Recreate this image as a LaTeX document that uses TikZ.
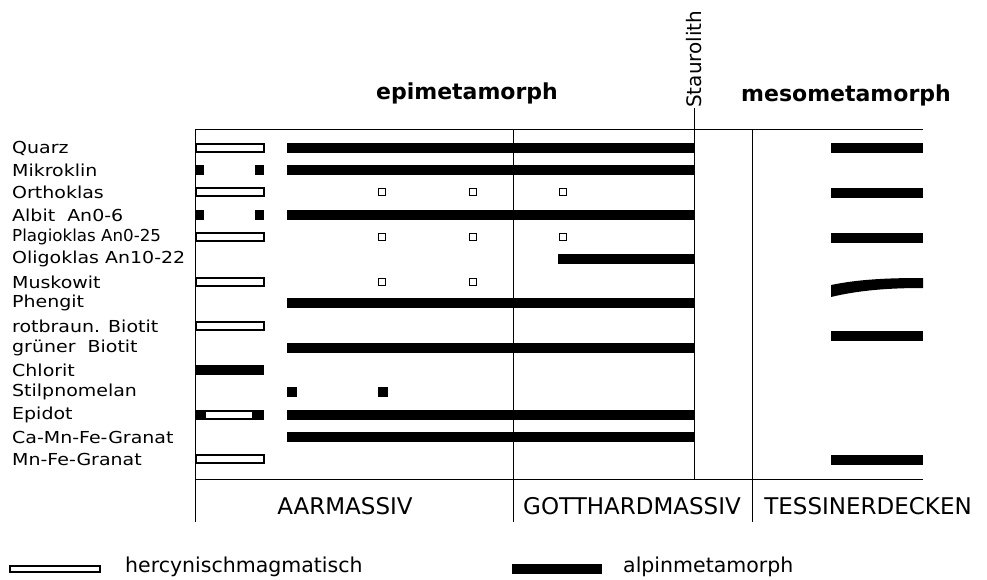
\documentclass[tikz,border=0pt]{standalone}
\usepackage{fontspec}
\usepackage{graphicx}
\setmainfont{DejaVu Sans}
\newfontfamily\lblfont{DejaVu Sans}[FakeStretch=1.15]
\newfontfamily\plainfont{DejaVu Sans}
\newfontfamily\hdrfont{DejaVu Sans}
\newfontfamily\regfont{DejaVu Sans}
\begin{document}
\begin{tikzpicture}[x=1pt,y=-1pt,
  frameline/.style={line width=1pt},
  openbar/.style={draw,line width=1.2pt,fill=white},
  alpbar/.style={fill=black},
  opensq/.style={draw,line width=1.2pt,fill=white},
  lbl/.style={anchor=west,inner sep=0pt,font=\lblfont\fontsize{16.5}{17}\selectfont},
  hdr/.style={inner sep=0pt,font=\hdrfont\bfseries\fontsize{22}{24}\selectfont},
  reg/.style={inner sep=0pt,font=\regfont\fontsize{23}{25}\selectfont},
  leg/.style={anchor=west,inner sep=0pt,font=\plainfont\fontsize{20.5}{22}\selectfont}]
\useasboundingbox (0,0) rectangle (987,580);
% frame
\draw[frameline] (195,130) -- (923,130);
\draw[frameline] (195,479) -- (923,479);
\draw[frameline] (195,130) -- (195,522);
\draw[frameline] (513,130) -- (513,522);
\draw[frameline] (694,108) -- (694,479);
\draw[frameline] (752,130) -- (752,522);
% headers
\node[hdr] (epi) at (467,93) {epimetamorph};
\node[hdr] (meso) at (846,95) {mesometamorph};
\node[inner sep=0pt,rotate=90,anchor=west,font=\plainfont\fontsize{20}{21}\selectfont] (stau) at (694,108) {Staurolith};
% row labels
\node[lbl] (l1) at (12,148) {Quarz};
\node[lbl] (l2) at (12,170) {Mikroklin};
\node[lbl] (l3) at (12,192) {Orthoklas};
\node[lbl] (l4) at (12,215) {Albit\ \ An0-6};
\node[lbl] (l5) at (12,237) {\scalebox{0.88}[1]{Plagioklas An0-25}};
\node[lbl] (l6) at (12,259) {Oligoklas An10-22};
\node[lbl] (l7) at (12,282) {Muskowit};
\node[lbl] (l8) at (12,303) {Phengit};
\node[lbl] (l9) at (12,326) {rotbraun. Biotit};
\node[lbl] (l10) at (12,348) {grüner\ \ Biotit};
\node[lbl] (l11) at (12,370) {Chlorit};
\node[lbl] (l12) at (12,392) {Stilpnomelan};
\node[lbl] (l13) at (12,415) {Epidot};
\node[lbl] (l14) at (12,437) {Ca-Mn-Fe-Granat};
\node[lbl] (l15) at (12,459) {Mn-Fe-Granat};
% hercynian (open) bars
\foreach \y in {148,192,237,282,326,459}
  \draw[openbar] (196,\y-4) rectangle (264,\y+4);
% black end squares
\foreach \y in {170,215}{
  \fill (196,\y-5) rectangle (204,\y+5);
  \fill (255,\y-5) rectangle (264,\y+5);}
% Chlorit
\fill (196,365) rectangle (264,375);
% Epidot
\fill (196,410) rectangle (264,420);
\draw[openbar] (205,411.5) rectangle (253,418.5);
% alpine bars epi
\foreach \y in {148,170,215,303,348,415,437}
  \fill[alpbar] (287,\y-5) rectangle (694,\y+5);
\fill[alpbar] (558,254) rectangle (694,264);
% open squares
\foreach \x in {382,473}{
  \draw[opensq] (\x-3.5,192-3.5) rectangle (\x+3.5,192+3.5);
  \draw[opensq] (\x-3.5,237-3.5) rectangle (\x+3.5,237+3.5);
  \draw[opensq] (\x-3.5,282-3.5) rectangle (\x+3.5,282+3.5);}
\draw[opensq] (563-3.5,192-3.5) rectangle (563+3.5,192+3.5);
\draw[opensq] (563-3.5,237-3.5) rectangle (563+3.5,237+3.5);
% Stilpnomelan
\fill (287,387) rectangle (297,397);
\fill (378,387) rectangle (388,397);
% meso bars
\foreach \y in {148,193,238,336,460}
  \fill[alpbar] (831,\y-5) rectangle (923,\y+5);
\fill[alpbar] (831,285) .. controls (860,279) and (890,278) .. (923,278) -- (923,288) .. controls (890,288) and (860,290) .. (831,297) -- cycle;
% region labels
\node[reg] (aar) at (345,506) {AARMASSIV};
\node[reg] (got) at (632,506) {GOTTHARDMASSIV};
\node[reg] (tes) at (868,506) {TESSINERDECKEN};
% legend
\draw[openbar] (10,566) rectangle (100,572);
\node[leg] (lh) at (125,567) {hercynischmagmatisch};
\fill (512,564) rectangle (602,574);
\node[leg] (la) at (623,567) {alpinmetamorph};
\end{tikzpicture}
\end{document}
